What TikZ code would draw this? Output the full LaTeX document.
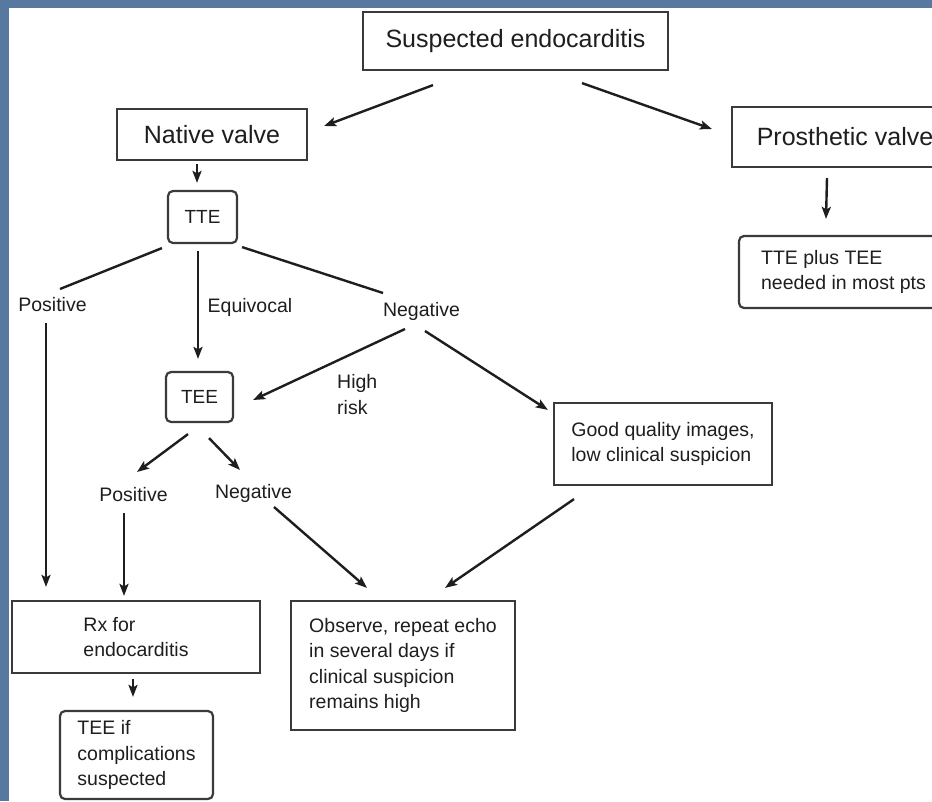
\documentclass[tikz,border=0pt]{standalone}
\usepackage{fontspec}
\setmainfont{Liberation Sans}
\usetikzlibrary{arrows.meta}
\definecolor{bgblue}{HTML}{57789F}
\definecolor{ink}{HTML}{1E1E1E}
\definecolor{boxline}{HTML}{3A3A3A}
\tikzset{
  big/.style={font=\fontsize{25}{30}\selectfont},
  small/.style={font=\fontsize{19.5}{25.5}\selectfont},
  box/.style={draw=boxline, line width=2.2pt, inner sep=0pt, text=ink, align=left},
  rbox/.style={box, rounded corners=5pt},
  lab/.style={small, inner sep=0pt, text=ink},
  ln/.style={draw=ink, line width=2.4pt},
  arr/.style={ln, -{Stealth[length=12pt,width=9pt,inset=2.5pt]}}
}
\begin{document}
\begin{tikzpicture}[x=1pt,y=-1pt]
\useasboundingbox (0,0) rectangle (932,801);
\fill[bgblue] (0,0) rectangle (932,801);
\fill[white] (9,8) rectangle (932,801);

% nodes
\node[box,big,minimum width=305pt,minimum height=58pt] (sus) at (515.5,41) {Suspected endocarditis};
\node[box,big,minimum width=190pt,minimum height=51pt] (nat) at (212,134.5) {Native valve};
\node[box,big,minimum width=226pt,minimum height=60pt] (pro) at (845,137) {Prosthetic valve};
\node[rbox,font=\fontsize{19}{24}\selectfont,minimum width=69pt,minimum height=52pt] (tte) at (202.5,217) {TTE};
\node[rbox,font=\fontsize{19}{24}\selectfont,minimum width=67pt,minimum height=50pt] (tee) at (199.5,397) {TEE};
\node[rbox,small,minimum width=209pt,minimum height=72pt] (ttep) at (843.5,272) {TTE plus TEE\\needed in most pts};
\node[box,small,minimum width=218pt,minimum height=82pt] (good) at (663,444) {Good quality images,\\low clinical suspicion};
\node[box,small,minimum width=248pt,minimum height=72pt] (rx) at (136,637) {Rx for\\endocarditis};
\node[box,small,minimum width=224pt,minimum height=129pt] (obs) at (403,665.5) {Observe, repeat echo\\in several days if\\clinical suspicion\\remains high};
\node[rbox,small,minimum width=153pt,minimum height=88pt] (teeif) at (136.5,755) {TEE if\\complications\\suspected};

% labels
\node[lab] (pos1) at (52.5,305) {Positive};
\node[lab] (equ) at (250,307) {Equivocal};
\node[lab] (neg1) at (421.5,311) {Negative};
\node[lab,anchor=west,align=left] (hr) at (337,394.5) {High\\risk};
\node[lab] (pos2) at (133.5,495) {Positive};
\node[lab] (neg2) at (253.5,493) {Negative};

% connectors
\draw[arr] ([shift={(-82.5,14)}]sus.south) -- ([shift={(16,-8.5)}]nat.east);
\draw[arr] ([shift={(66.5,12)}]sus.south) -- ([shift={(-19,-8)}]pro.west);
\draw[arr] ([shift={(-15,3)}]nat.south) -- ([shift={(-5.5,-7)}]tte.north);
\draw[ln] ([shift={(-5,4)}]tte.south west) -- ([shift={(7.5,-16)}]pos1.center);
\draw[arr] ([shift={(-4.5,7)}]tte.south) -- ([shift={(-1.5,-12)}]tee.north);
\draw[ln] ([shift={(4,3)}]tte.south east) -- ([shift={(-38.5,-18)}]neg1.center);
\draw[arr] ([shift={(-6.5,18)}]pos1.center) -- ([shift={(-90,-13)}]rx.north);
\draw[arr] ([shift={(-16.5,18)}]neg1.center) -- ([shift={(19,3)}]tee.east);
\draw[arr] ([shift={(3.5,20)}]neg1.center) -- ([shift={(-5,8)}]good.north west);
\draw[arr] ([shift={(-11.5,11)}]tee.south) -- ([shift={(3.5,-23)}]pos2.center);
\draw[arr] ([shift={(9.5,15)}]tee.south) -- ([shift={(-13.5,-23)}]neg2.center);
\draw[arr] ([shift={(-9.5,18)}]pos2.center) -- ([shift={(-12,-4)}]rx.north);
\draw[arr] ([shift={(20.5,14)}]neg2.center) -- ([shift={(-36,-12)}]obs.north);
\draw[arr] ([shift={(-89,13)}]good.south) -- ([shift={(42,-12)}]obs.north);
\draw[arr] ([shift={(-3,5)}]rx.south) -- ([shift={(-3.5,-13)}]teeif.north);
\draw[arr] ([shift={(-18,10)}]pro.south) -- ([shift={(-17.5,-16)}]ttep.north);
\end{tikzpicture}
\end{document}
